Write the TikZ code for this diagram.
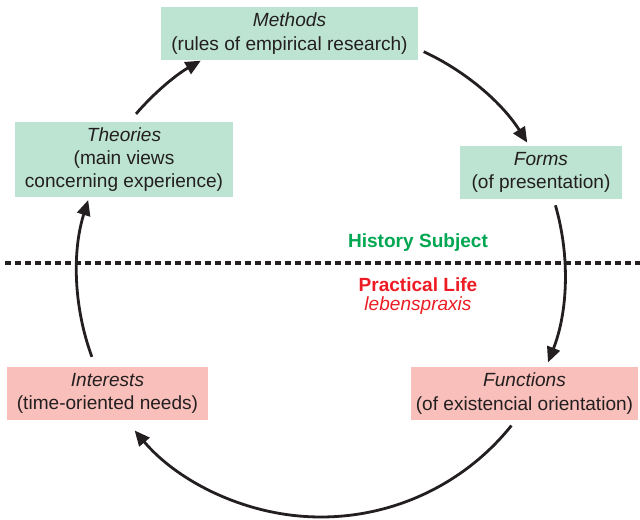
\documentclass[tikz,border=0pt]{standalone}
\usepackage{fontspec}
\setmainfont{Liberation Sans}
\usetikzlibrary{arrows.meta,calc}

\definecolor{ink}{HTML}{231F20}
\definecolor{mint}{HTML}{BDE3D3}
\definecolor{rose}{HTML}{F9BFBA}
\definecolor{subjgreen}{HTML}{00A651}
\definecolor{lifered}{HTML}{ED1C24}

\tikzset{
  box/.style={rectangle, inner sep=0pt, align=center, text=ink,
    font=\fontsize{14.3}{17.4}\selectfont, minimum height=39.75pt},
  theory/.style={box, fill=mint},
  life/.style={box, fill=rose},
  flow/.style={draw=ink, line width=2.1pt,
    -{Triangle[length=11.5pt,width=10pt]}},
  divider/.style={draw=ink, line width=2.6pt, dash pattern=on 4.6pt off 2.9pt},
  realm/.style={font=\fontsize{14.3}{17.4}\selectfont\bfseries, inner sep=0pt}
}

\begin{document}
\begin{tikzpicture}[x=0.75pt, y=0.75pt]
  \useasboundingbox (0,0) rectangle (640,519);

  % boxes of the cycle
  \node[theory, minimum width=192.75pt] (methods) at (289.5,485.5)
    {\textit{Methods}\\(rules of empirical research)};
  \node[theory, minimum width=121.5pt] (forms) at (541,346.5)
    {\textit{Forms}\\(of presentation)};
  \node[theory, minimum width=163.5pt, minimum height=56.25pt] (theories) at (124,359.5)
    {\textit{Theories}\\(main views\\concerning experience)};
  \node[life, minimum width=170.25pt] (functions) at (524.5,125.5)
    {\textit{Functions}\\(of existencial orientation)};
  \node[life, minimum width=150.75pt] (interests) at (107.5,125.5)
    {\textit{Interests}\\(time-oriented needs)};

  % dividing line between the two realms
  \coordinate (divL) at (5,256);
  \coordinate (divR) at (640,256);
  \draw[divider] (divL) -- (divR);

  \node[realm, text=subjgreen] (subject) at (418,276) {History Subject};
  \node[realm, text=lifered] (practical) at (418,234.5) {Practical Life};
  \node[font=\fontsize{14.3}{17.4}\selectfont\itshape, text=lifered, inner sep=0pt]
    (lebens) at (418,213.5) {lebenspraxis};

  % arcs of the cycle, all on one circle
  \coordinate (o) at (321,246);
  \coordinate (m-out) at ($(o)+(65.1:183pt)$);
  \coordinate (f-in)  at ($(o)+(32.3:183pt)$);
  \coordinate (f-out) at ($(o)+(16.1:183pt)$);
  \coordinate (u-in)  at ($(o)+(-21.5:183pt)$);
  \coordinate (u-out) at ($(o)+(-38.7:183pt)$);
  \coordinate (i-in)  at ($(o)+(-139.8:183pt)$);
  \coordinate (i-out) at ($(o)+(200.1:183pt)$);
  \coordinate (t-in)  at ($(o)+(162.6:183pt)$);
  \coordinate (t-out) at ($(o)+(139.3:183pt)$);
  \coordinate (m-in)  at ($(o)+(119.5:183pt)$);

  \draw[flow] (m-out) arc[start angle=65.1, end angle=32.3, radius=183pt];
  \draw[flow] (f-out) arc[start angle=16.1, end angle=-21.5, radius=183pt];
  \draw[flow] (u-out) arc[start angle=-38.7, end angle=-139.8, radius=183pt];
  \draw[flow] (i-out) arc[start angle=200.1, end angle=162.6, radius=183pt];
  \draw[flow] (t-out) arc[start angle=139.3, end angle=119.5, radius=183pt];
\end{tikzpicture}
\end{document}
